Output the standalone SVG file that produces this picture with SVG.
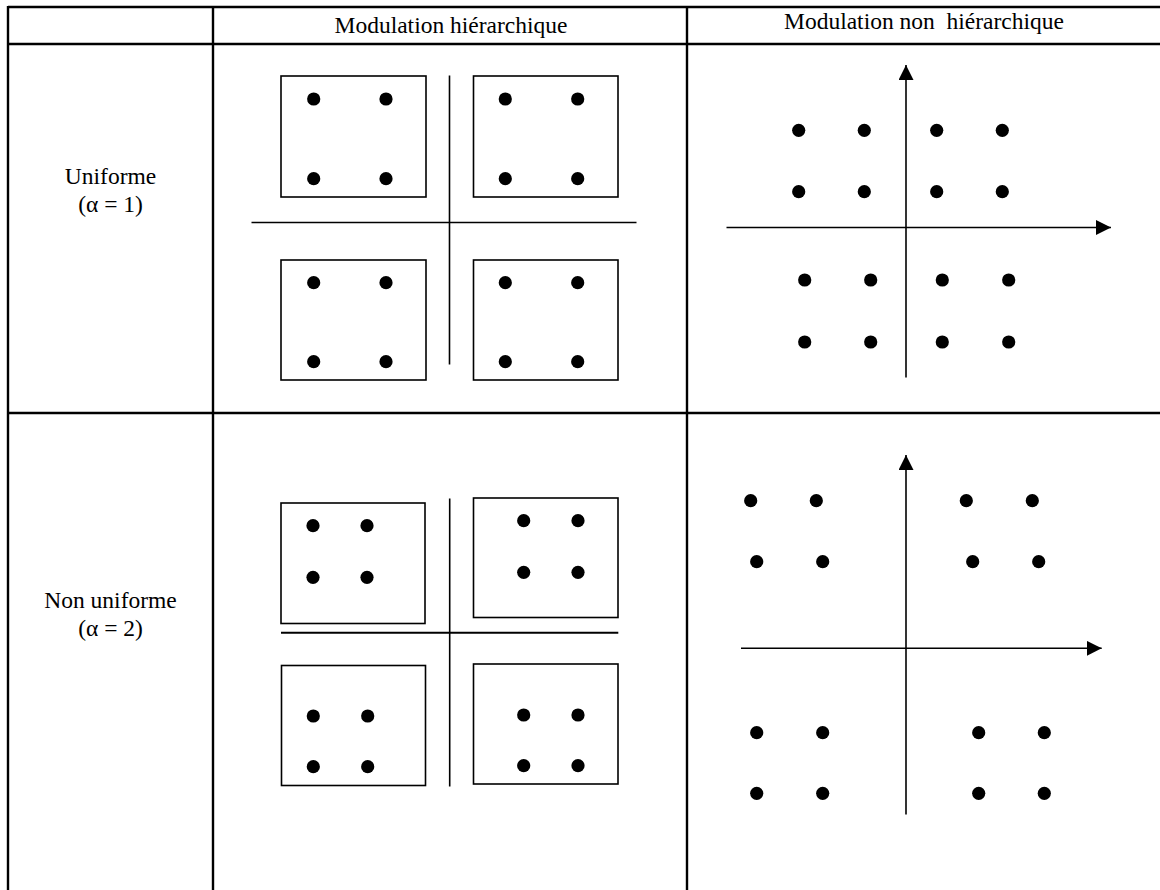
<svg xmlns="http://www.w3.org/2000/svg" width="1160" height="890" viewBox="0 0 1160 890">
<style>
.grid{stroke:#000;stroke-width:2.4;fill:none}
.box{stroke:#000;stroke-width:1.6;fill:none}
.ax{stroke:#000;stroke-width:1.6;fill:none}
.dot{fill:#000}
.t{font-family:"Liberation Serif","Times New Roman",serif;font-size:23.5px;fill:#000;text-anchor:middle}
</style>
<defs>
<marker id="arr" markerUnits="userSpaceOnUse" markerWidth="16" markerHeight="16" refX="15" refY="7.5" orient="auto">
<path d="M0,0 L15,7.5 L0,15 z" fill="#000"/>
</marker>
<circle id="d" r="6.6" class="dot"/>
</defs>
<rect width="1160" height="890" fill="#fff"/>

<g id="table">
<line class="grid" x1="8" y1="7" x2="1160" y2="7"/>
<line class="grid" x1="8" y1="44" x2="1160" y2="44"/>
<line class="grid" x1="8" y1="413" x2="1160" y2="413"/>
<line class="grid" x1="8" y1="6" x2="8" y2="890"/>
<line class="grid" x1="213" y1="6" x2="213" y2="890"/>
<line class="grid" x1="687" y1="6" x2="687" y2="890"/>
</g>

<g id="labels">
<text class="t" x="451" y="33">Modulation hiérarchique</text>
<text class="t" x="924" y="29" xml:space="preserve">Modulation non  hiérarchique</text>
<text class="t" x="110.5" y="184">Uniforme</text>
<text class="t" x="110.5" y="212">(α = 1)</text>
<text class="t" x="110.5" y="608">Non uniforme</text>
<text class="t" x="110.5" y="636">(α = 2)</text>
</g>

<g id="hier-uniform">
<rect class="box" x="281" y="76" width="145" height="121"/>
<rect class="box" x="473.5" y="76" width="144.5" height="121"/>
<rect class="box" x="281" y="260" width="145" height="120"/>
<rect class="box" x="473.5" y="260" width="144.5" height="120"/>
<line class="ax" x1="449.5" y1="75.5" x2="449.5" y2="364.5"/>
<line class="ax" x1="251.5" y1="222.5" x2="636.5" y2="222.5"/>
<use href="#d" x="313.7" y="99"/><use href="#d" x="386" y="99"/>
<use href="#d" x="313.7" y="178.7"/><use href="#d" x="386" y="178.7"/>
<use href="#d" x="505.3" y="99"/><use href="#d" x="577.7" y="99"/>
<use href="#d" x="505.3" y="178.7"/><use href="#d" x="577.7" y="178.7"/>
<use href="#d" x="313.7" y="282.7"/><use href="#d" x="386" y="282.7"/>
<use href="#d" x="313.7" y="361.7"/><use href="#d" x="386" y="361.7"/>
<use href="#d" x="505.3" y="282.7"/><use href="#d" x="577.7" y="282.7"/>
<use href="#d" x="505.3" y="361.7"/><use href="#d" x="577.7" y="361.7"/>
</g>

<g id="nonhier-uniform">
<line class="ax" x1="906" y1="377.5" x2="906" y2="65" marker-end="url(#arr)"/>
<line class="ax" x1="726.5" y1="227.5" x2="1111" y2="227.5" marker-end="url(#arr)"/>
<use href="#d" x="798.7" y="130.3"/><use href="#d" x="864.3" y="130.3"/>
<use href="#d" x="936.7" y="130.3"/><use href="#d" x="1002.3" y="130.3"/>
<use href="#d" x="798.7" y="191.7"/><use href="#d" x="864.3" y="191.7"/>
<use href="#d" x="936.7" y="191.7"/><use href="#d" x="1002.3" y="191.7"/>
<use href="#d" x="804.7" y="280"/><use href="#d" x="870.7" y="280"/>
<use href="#d" x="942.3" y="280"/><use href="#d" x="1008.7" y="280"/>
<use href="#d" x="804.7" y="342"/><use href="#d" x="870.7" y="342"/>
<use href="#d" x="942.3" y="342"/><use href="#d" x="1008.7" y="342"/>
</g>

<g id="hier-nonuniform">
<rect class="box" x="281" y="503" width="144" height="120.5"/>
<rect class="box" x="473.5" y="498" width="144.5" height="119.5"/>
<rect class="box" x="281.5" y="665.5" width="144" height="120"/>
<rect class="box" x="473.5" y="664" width="144.5" height="120"/>
<line class="ax" x1="449.7" y1="498.5" x2="449.7" y2="786.5"/>
<line class="ax" x1="281" y1="632.7" x2="618.3" y2="632.7" style="stroke-width:2"/>
<use href="#d" x="313" y="525.7"/><use href="#d" x="367" y="525.7"/>
<use href="#d" x="313" y="577.3"/><use href="#d" x="367" y="577.3"/>
<use href="#d" x="523.7" y="520.7"/><use href="#d" x="578" y="520.7"/>
<use href="#d" x="523.7" y="572.3"/><use href="#d" x="578" y="572.3"/>
<use href="#d" x="313.3" y="716"/><use href="#d" x="367.7" y="716"/>
<use href="#d" x="313.3" y="766.7"/><use href="#d" x="367.7" y="766.7"/>
<use href="#d" x="523.7" y="715"/><use href="#d" x="578" y="715"/>
<use href="#d" x="523.7" y="765.7"/><use href="#d" x="578" y="765.7"/>
</g>

<g id="nonhier-nonuniform">
<line class="ax" x1="906" y1="814.5" x2="906" y2="455" marker-end="url(#arr)"/>
<line class="ax" x1="741" y1="648.3" x2="1101.7" y2="648.3" marker-end="url(#arr)"/>
<use href="#d" x="750.7" y="500.7"/><use href="#d" x="816.3" y="500.7"/>
<use href="#d" x="966.3" y="500.7"/><use href="#d" x="1032.3" y="500.7"/>
<use href="#d" x="756.7" y="561.7"/><use href="#d" x="822.7" y="561.7"/>
<use href="#d" x="972.7" y="561.7"/><use href="#d" x="1038.7" y="561.7"/>
<use href="#d" x="756.7" y="732.7"/><use href="#d" x="822.7" y="732.7"/>
<use href="#d" x="978.7" y="732.7"/><use href="#d" x="1044.3" y="732.7"/>
<use href="#d" x="756.7" y="793.3"/><use href="#d" x="822.7" y="793.3"/>
<use href="#d" x="978.7" y="793.3"/><use href="#d" x="1044.3" y="793.3"/>
</g>
</svg>
